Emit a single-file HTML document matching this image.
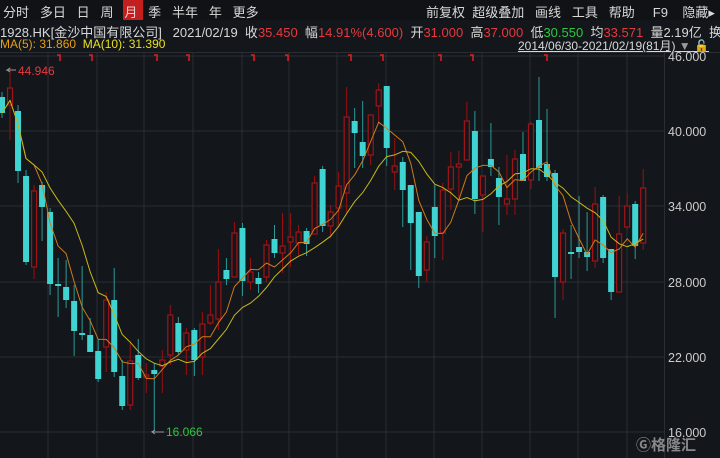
<!DOCTYPE html>
<html><head><meta charset="utf-8"><style>
body{margin:0;background:#13161b;width:720px;height:458px;overflow:hidden;font-family:"Liberation Sans","Noto Sans CJK SC",sans-serif;color:#d8d8d8}
.r{position:absolute;white-space:nowrap;font-size:13px}
</style></head><body>
<div style="position:absolute;left:0;top:0;width:720px;height:20px;background:#101216"></div>
<div class="r" style="left:123px;top:0;width:20px;height:20px;background:#c41f1f"></div>
<div class="r" style="top:2px;left:3px;word-spacing:0">分时&nbsp;&nbsp; 多日&nbsp;&nbsp; 日&nbsp;&nbsp; 周&nbsp;&nbsp; 月&nbsp;&nbsp; 季&nbsp;&nbsp; 半年&nbsp;&nbsp; 年&nbsp;&nbsp; 更多</div>
<div class="r" style="top:2px;left:426px">前复权&nbsp; 超级叠加&nbsp;&nbsp; 画线&nbsp;&nbsp; 工具&nbsp;&nbsp; 帮助&nbsp;&nbsp;&nbsp;&nbsp; F9&nbsp;&nbsp;&nbsp; 隐藏▸</div>
<div class="r" style="top:22px;left:0">1928.HK[金沙中国有限公司]&nbsp;&nbsp; 2021/02/19&nbsp; 收<span style="color:#e8383d">35.450</span>&nbsp; 幅<span style="color:#e8383d">14.91%(4.600)</span>&nbsp; 开<span style="color:#e8383d">31.000</span>&nbsp; 高<span style="color:#e8383d">37.000</span>&nbsp; 低<span style="color:#2ec840">30.550</span>&nbsp; 均<span style="color:#e8383d">33.571</span>&nbsp; 量2.19亿&nbsp; 换</div>
<div class="r" style="top:37px;left:0;color:#e8a010;font-size:12px">MA(5): 31.860&nbsp; <span style="color:#e8e020">MA(10): 31.390</span></div>
<div class="r" style="top:37px;left:518px;font-size:12px;text-decoration:underline">2014/06/30-2021/02/19(81月)<span style="color:#999;text-decoration:none"> ▼</span> <span style="color:#e8a010">🔓</span></div>
<svg id="s" width="720" height="458" style="position:absolute;left:0;top:0"></svg>
<div class="r" style="left:636px;top:434px;color:#888;font-size:15px;font-weight:bold">Ⓖ格隆汇</div>
<script>
const d=[
[0,97,113,92,118],[1,88,105,67,140],[0,111,171,105,183],[0,176,262,170,265],[1,191,267,185,279],[0,185,207,182,241],[0,212,284,208,295],[0,284,286,258,317],[0,287,300,260,308],[0,301,331,285,356],
[0,333,335,266,340],[0,335,352,318,352],[0,351,379,340,382],[1,300,347,292,372],[0,300,372,268,377],[0,376,406,360,410],[1,361,405,341,410],[0,355,378,339,380],[1,375,377,363,393],[0,370,374,363,431],
[1,360,366,350,393],[1,315,355,305,365],[0,323,352,317,355],[1,333,350,328,375],[0,330,360,328,376],[1,324,357,312,375],[1,315,323,285,325],[1,282,319,249,330],[0,270,279,258,285],[1,233,277,222,277],
[0,228,281,223,296],[1,272,282,258,290],[0,278,284,272,293],[1,245,277,240,282],[0,239,253,225,258],[1,246,253,213,273],[1,237,242,213,267],[1,232,243,225,255],[0,231,244,228,256],[1,183,234,176,234],
[0,169,226,166,232],[1,212,226,205,238],[1,186,208,172,226],[1,117,193,87,213],[0,121,133,108,168],[0,142,156,101,168],[1,115,155,115,165],[1,90,106,83,123],[0,86,148,86,166],[1,166,172,138,190],
[0,162,190,157,227],[0,185,223,185,270],[0,212,276,212,288],[1,242,270,236,282],[0,207,236,185,258],[1,190,233,183,260],[1,167,189,152,210],[1,164,167,151,200],[1,121,160,102,160],[0,131,199,111,214],
[1,176,195,176,232],[0,159,167,123,176],[0,178,197,167,225],[1,199,204,155,215],[1,159,199,150,215],[0,154,181,132,181],[1,124,180,122,189],[0,120,168,77,181],[0,164,177,109,181],[0,173,277,170,318],
[1,233,282,229,300],[0,252,254,225,279],[0,247,252,196,258],[0,252,257,212,271],[1,204,261,187,268],[0,197,258,195,263],[0,249,292,249,300],[1,234,292,196,292],[1,206,227,193,230],[0,204,246,201,259],
[1,188,243,169,250]];
let h='';
// grid
[56,131,206,282,357,432].forEach(y=>h+=`<line x1="0" x2="664" y1="${y}" y2="${y}" stroke="#2a2d33"/>`);
[48,97,144,193,242,289,337,386,434,482,530,578,627].forEach(x=>h+=`<line x1="${x}" x2="${x}" y1="52" y2="458" stroke="#2a2d33"/>`);
h+=`<line x1="664.5" x2="664.5" y1="52" y2="458" stroke="#2a2d33"/><line x1="0" x2="720" y1="52.5" y2="52.5" stroke="#2a2d33"/>`;
[['46.000',56],['40.000',131],['34.000',206],['28.000',282],['22.000',357],['16.000',432]].forEach(a=>h+=`<text x="668" y="${a[1]+5}" fill="#ccc" font-size="12.5" font-family="Liberation Sans">${a[0]}</text>`);
[60,92,157,189,254,288,351,383,441,473,547].forEach(x=>h+=`<path d="M${x-3} 55H${x}V61" stroke="#e02020" fill="none" stroke-width="1.5"/>`);
const X=i=>2+8.015*i,cl=[];
d.forEach((c,i)=>{const x=X(i);const up=c[0];cl.push(up?c[1]:c[2]);
const col=up?'#a01418':'#3fd3d1';
h+=`<line x1="${x}" x2="${x}" y1="${c[3]}" y2="${c[4]}" stroke="${up?'#9a1010':'#2a9a98'}"/>`;
if(up)h+=`<rect x="${x-2.5}" y="${c[1]}" width="5" height="${Math.max(1,c[2]-c[1])}" fill="#13161b" stroke="${col}" stroke-width="1.2"/>`;
else h+=`<rect x="${x-3}" y="${c[1]}" width="6" height="${Math.max(2,c[2]-c[1])}" fill="${col}"/>`;});
function ma(n,col){let p=[];cl.forEach((v,i)=>{let s=0,k=0;for(let j=Math.max(0,i-n+1);j<=i;j++){s+=cl[j];k++}p.push(X(i).toFixed(1)+','+(s/k).toFixed(1))});h+=`<polyline points="${p.join(' ')}" fill="none" stroke="${col}" stroke-width="1"/>`;}
ma(5,'#d07a18');ma(10,'#c8b818');
h+=`<path d="M16 70H7l3-2M7 70l3 2" stroke="#999" fill="none"/><text x="18" y="75" fill="#e8383d" font-size="12" font-family="Liberation Sans">44.946</text>`;
h+=`<path d="M152 431V432H164M152 432l3-2M152 432l3 2" stroke="#999" fill="none"/><text x="166" y="436" fill="#2ec840" font-size="12" font-family="Liberation Sans">16.066</text>`;
document.getElementById('s').innerHTML=h;
</script>
</body></html>
